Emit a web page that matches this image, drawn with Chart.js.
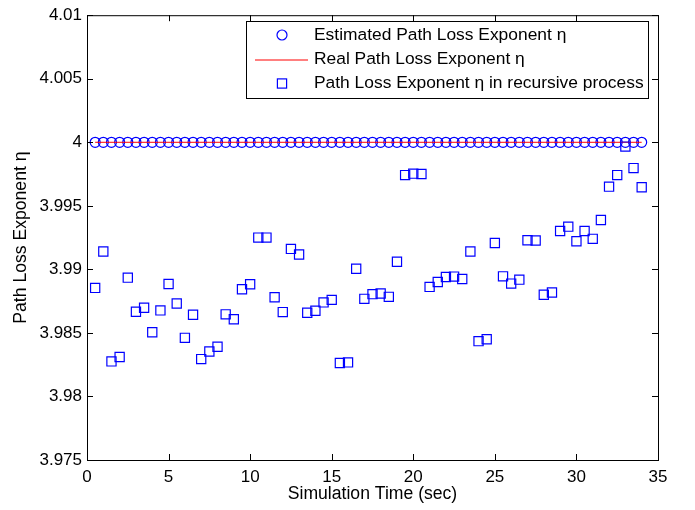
<!DOCTYPE html>
<html>
<head>
<meta charset="utf-8">
<script src="https://cdn.jsdelivr.net/npm/chart.js@4.4.1/dist/chart.umd.min.js"></script>
<style>
  html, body { margin: 0; padding: 0; background: #fff; }
</style>
</head>
<body>
<canvas id="etaChart" width="695" height="510"></canvas>
<script>
// simulation time stamps (sec)
const simTime = [
  0.5, 1, 1.5, 2, 2.5, 3, 3.5, 4, 4.5, 5, 5.5, 6, 6.5, 7, 7.5, 8, 8.5,
  9, 9.5, 10, 10.5, 11, 11.5, 12, 12.5, 13, 13.5, 14, 14.5, 15, 15.5, 16, 16.5,
  17, 17.5, 18, 18.5, 19, 19.5, 20, 20.5, 21, 21.5, 22, 22.5, 23, 23.5, 24, 24.5,
  25, 25.5, 26, 26.5, 27, 27.5, 28, 28.5, 29, 29.5, 30, 30.5, 31, 31.5, 32, 32.5,
  33, 33.5, 34
];

// final estimate of eta at each step
const estimatedEta = [
  4, 4, 4, 4, 4, 4, 4, 4, 4, 4, 4, 4, 4, 4, 4, 4, 4,
  4, 4, 4, 4, 4, 4, 4, 4, 4, 4, 4, 4, 4, 4, 4, 4,
  4, 4, 4, 4, 4, 4, 4, 4, 4, 4, 4, 4, 4, 4, 4, 4,
  4, 4, 4, 4, 4, 4, 4, 4, 4, 4, 4, 4, 4, 4, 4, 4,
  4, 4, 4
];

// true exponent, drawn as a line over the whole run
const realTime = [0.5, 34];
const realEta = [4, 4];

// intermediate values from the recursive process
const recursiveEta = [
  3.98854, 3.99141, 3.98276, 3.98310, 3.98935, 3.98667, 3.98698, 3.98505, 3.98677,
  3.98885, 3.98732, 3.98461, 3.98643, 3.98294, 3.98354, 3.98391, 3.98646,
  3.98607, 3.98844, 3.98883, 3.99250, 3.99250, 3.98781, 3.98664, 3.99161,
  3.99117, 3.98659, 3.98674, 3.98740, 3.98760, 3.98263, 3.98268, 3.99005,
  3.98768, 3.98805, 3.98810, 3.98784, 3.99060, 3.99742, 3.99753, 3.99750,
  3.98862, 3.98901, 3.98940, 3.98943, 3.98924, 3.99141, 3.98435, 3.98450,
  3.99208, 3.98945, 3.98888, 3.98919, 3.99229, 3.99227, 3.98800, 3.98818,
  3.99302, 3.99336, 3.99221, 3.99302, 3.99240, 3.99388, 3.99651, 3.99742,
  3.99966, 3.99797, 3.99646
];

const xTicks = [0, 5, 10, 15, 20, 25, 30, 35];
const yTicks = [3.975, 3.98, 3.985, 3.99, 3.995, 4, 4.005, 4.01];
const yTickLabels = ['3.975', '3.98', '3.985', '3.99', '3.995', '4', '4.005', '4.01'];

const legendLabels = [
  'Estimated Path Loss Exponent \u03b7',
  'Real Path Loss Exponent \u03b7',
  'Path Loss Exponent \u03b7 in recursive process'
];

const BLUE = '#0000ff';
const RED = '#ff0000';
const FONT = "'Liberation Sans', Arial, sans-serif";

const toPoints = (xs, ys) => xs.map((x, i) => ({ x: x, y: ys[i] }));

// box around the axes with inward ticks on all four sides
const frameTicks = {
  id: 'frameTicks',
  afterDatasetsDraw(chart) {
    const { ctx, chartArea: a, scales: { x, y } } = chart;
    const len = 6;
    ctx.save();
    ctx.strokeStyle = '#000';
    ctx.lineWidth = 1;
    ctx.beginPath();
    x.ticks.forEach(t => {
      const px = Math.round(x.getPixelForValue(t.value)) + 0.5;
      ctx.moveTo(px, a.bottom); ctx.lineTo(px, a.bottom - len);
      ctx.moveTo(px, a.top); ctx.lineTo(px, a.top + len);
    });
    y.ticks.forEach(t => {
      const py = Math.round(y.getPixelForValue(t.value)) + 0.5;
      ctx.moveTo(a.left, py); ctx.lineTo(a.left + len, py);
      ctx.moveTo(a.right, py); ctx.lineTo(a.right - len, py);
    });
    ctx.stroke();
    ctx.strokeRect(a.left + 0.5, a.top + 0.5, a.right - a.left, a.bottom - a.top);
    ctx.restore();
  }
};

// legend box in the upper right corner of the axes
const boxLegend = {
  id: 'boxLegend',
  afterDraw(chart) {
    const { ctx } = chart;
    const bx = 246, by = 21, bw = 402, bh = 77;
    const rows = [35, 59.5, 83.5];
    const sx = 282, tx = 314;
    ctx.save();
    ctx.fillStyle = '#fff';
    ctx.fillRect(bx, by, bw, bh);
    ctx.strokeStyle = '#000';
    ctx.lineWidth = 1;
    ctx.strokeRect(bx + 0.5, by + 0.5, bw, bh);

    ctx.lineWidth = 1.2;
    ctx.strokeStyle = BLUE;
    ctx.beginPath();
    ctx.arc(sx, rows[0], 5, 0, Math.PI * 2);
    ctx.stroke();

    ctx.lineWidth = 1;
    ctx.strokeStyle = RED;
    ctx.beginPath();
    ctx.moveTo(255, rows[1] + 0.5);
    ctx.lineTo(308, rows[1] + 0.5);
    ctx.stroke();

    ctx.lineWidth = 1.2;
    ctx.strokeStyle = BLUE;
    ctx.strokeRect(sx - 4.6, rows[2] - 4.6, 9.2, 9.2);

    ctx.fillStyle = '#000';
    ctx.font = '17.4px ' + FONT;
    ctx.textAlign = 'left';
    ctx.textBaseline = 'middle';
    legendLabels.forEach((txt, i) => ctx.fillText(txt, tx, rows[i]));
    ctx.restore();
  }
};

new Chart(document.getElementById('etaChart'), {
  type: 'scatter',
  data: {
    datasets: [
      {
        label: legendLabels[0],
        data: toPoints(simTime, estimatedEta),
        showLine: false,
        pointStyle: 'circle',
        pointRadius: 5,
        pointBorderWidth: 1.2,
        borderColor: BLUE,
        backgroundColor: 'rgba(0,0,0,0)',
        order: 3
      },
      {
        label: legendLabels[1],
        data: toPoints(realTime, realEta),
        showLine: true,
        pointRadius: 0,
        borderWidth: 1,
        borderColor: RED,
        order: 2
      },
      {
        label: legendLabels[2],
        data: toPoints(simTime, recursiveEta),
        showLine: false,
        pointStyle: 'rect',
        pointRadius: 6.5,
        pointBorderWidth: 1.2,
        borderColor: BLUE,
        backgroundColor: 'rgba(0,0,0,0)',
        order: 1
      }
    ]
  },
  options: {
    responsive: false,
    animation: false,
    devicePixelRatio: 1,
    events: [],
    layout: { padding: { top: 12, right: 37, left: 0, bottom: 0 } },
    plugins: {
      legend: { display: false },
      tooltip: { enabled: false }
    },
    scales: {
      x: {
        type: 'linear',
        min: 0,
        max: 35,
        afterBuildTicks: s => { s.ticks = xTicks.map(v => ({ value: v })); },
        afterFit: s => { s.height = 50; },
        grid: { display: false, drawTicks: false },
        border: { display: false },
        ticks: {
          padding: 7,
          color: '#000',
          maxRotation: 0,
          font: { family: FONT, size: 17 },
          callback: v => String(v)
        },
        title: {
          display: true,
          text: 'Simulation Time (sec)',
          color: '#000',
          font: { family: FONT, size: 17.6 },
          padding: { top: 0, bottom: 5 }
        }
      },
      y: {
        type: 'linear',
        min: 3.975,
        max: 4.01,
        afterBuildTicks: s => { s.ticks = yTicks.map(v => ({ value: v })); },
        afterFit: s => { s.width = 87; },
        grid: { display: false, drawTicks: false },
        border: { display: false },
        ticks: {
          padding: 5,
          color: '#000',
          font: { family: FONT, size: 17 },
          callback: v => {
            const i = yTicks.findIndex(t => Math.abs(t - v) < 1e-9);
            return i >= 0 ? yTickLabels[i] : '';
          }
        },
        title: {
          display: true,
          text: 'Path Loss Exponent \u03b7',
          color: '#000',
          font: { family: FONT, size: 17.6 },
          padding: { top: 11, bottom: 0 }
        }
      }
    }
  },
  plugins: [frameTicks, boxLegend]
});
</script>
</body>
</html>
